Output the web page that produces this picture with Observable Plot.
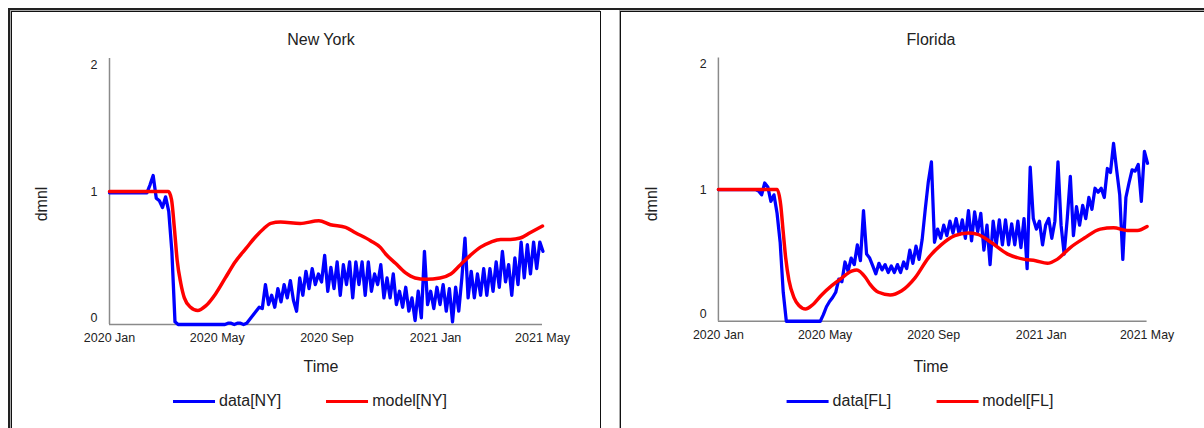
<!DOCTYPE html>
<html><head><meta charset="utf-8">
<script src="https://cdn.jsdelivr.net/npm/d3@7"></script>
<script src="https://cdn.jsdelivr.net/npm/@observablehq/plot@0.6"></script>
<style>
body{margin:0;background:#fff;font-family:"Liberation Sans",Arial,sans-serif;color:#222}
#root{position:relative;width:1204px;height:428px;overflow:hidden;background:#fff}
.abs{position:absolute}
.outer{left:8px;top:8px;width:1400px;height:600px;border-top:2px solid #222;border-left:2px solid #222;box-sizing:border-box}
.panel{top:11px;width:590px;height:600px;border:1px solid #111;box-sizing:border-box;box-shadow:-1px -1px 0 #aaa}
.ctr{transform:translate(-50%,-50%);white-space:nowrap;font-size:16px;line-height:1}
.ylab{transform:translate(-50%,-50%) rotate(-90deg);white-space:nowrap;font-size:16px;line-height:1}
.legend{display:flex;align-items:center;transform:translate(-50%,-50%);white-space:nowrap;font-size:16px;line-height:1}
.sw{display:inline-block;width:42px;height:3px;margin-right:4px}
</style>
</head><body>
<div id="root">
  <div class="abs outer"></div>
  <div class="abs panel" style="left:11px"></div>
  <div class="abs panel" style="left:620px"></div>
</div>
<script>
// ---- data ----
const panels = ["New York", "Florida"];
const seriesNames = [["data[NY]", "model[NY]"], ["data[FL]", "model[FL]"]];
const xTickLabels = ["2020 Jan", "2020 May", "2020 Sep", "2021 Jan", "2021 May"];
const xTickDates = ["2020-01-01", "2020-05-01", "2020-09-01", "2021-01-01", "2021-05-01"];
const yTicks = [0, 1, 2];
const startDate = "2020-01-01";
const endDate = "2021-05-01";
const dataStepDays = 3.5;

const dataNY = [0.99,0.99,0.99,0.99,0.99,0.99,0.99,0.99,0.99,0.99,0.99,0.99,0.99,
  1.05,1.12,0.95,0.93,0.88,0.96,0.85,0.55,0.02,
  0,0,0,0,0,0,0,0,0,0,0,0,0,0,0,0,
  0.01,0.01,0,0.01,0.01,0,0.01,0.04,0.07,0.1,0.13,0.12,0.3,0.15,0.22,0.13,0.27,0.17,0.3,0.2,0.33,0.18,
  0.1,0.35,0.22,0.4,0.27,0.42,0.3,0.38,0.32,0.52,0.25,0.43,0.27,0.47,0.22,0.45,0.3,0.47,0.2,0.47,
  0.3,0.47,0.22,0.47,0.25,0.38,0.3,0.45,0.2,0.35,0.2,0.38,0.15,0.25,0.13,0.28,0.1,0.2,0.03,0.25,
  0.05,0.55,0.15,0.25,0.12,0.28,0.15,0.3,0.1,0.27,0.02,0.28,0.1,0.35,0.65,0.2,0.4,0.2,0.38,0.22,
  0.42,0.22,0.42,0.25,0.47,0.28,0.55,0.32,0.45,0.22,0.5,0.3,0.62,0.35,0.6,0.38,0.62,0.42,0.62,0.55];

const dataFL = [1,1,1,1,1,1,1,1,1,1,1,1,1,
  0.99,0.96,1.05,1.02,0.91,0.96,0.82,0.6,0.22,
  0,0,0,0,0,0,0,0,0,0,0,0,
  0.05,0.11,0.15,0.18,0.22,0.32,0.3,0.45,0.38,0.48,0.43,0.58,0.46,0.84,0.51,0.48,0.42,0.36,0.44,0.39,
  0.43,0.37,0.42,0.37,0.43,0.37,0.45,0.4,0.54,0.44,0.57,0.47,0.62,0.85,1.06,1.21,0.6,0.7,0.63,0.73,
  0.65,0.76,0.67,0.78,0.66,0.77,0.63,0.84,0.61,0.83,0.68,0.82,0.54,0.73,0.43,0.76,0.58,0.77,0.58,0.77,
  0.58,0.74,0.58,0.76,0.56,0.78,0.4,1.17,0.78,0.7,0.76,0.58,0.73,0.78,0.63,0.76,1.21,0.73,0.51,0.78,
  1.1,0.65,0.87,0.73,0.88,0.78,0.94,0.85,1.01,0.98,1.01,0.94,1.16,1.13,1.35,1.15,0.96,0.47,0.94,1.05,
  1.15,1.14,1.19,0.91,1.29,1.2];

const modelDaysNY = [0,66,69.6,73,76,80,84,91,99,108,119,130,141,153,164,173,181,192,214,235,248,265,276,293,304,310,321,332,343,355,371,383,394,405,416,428,439,450,461,472,486];
const modelNY =     [1,1,0.94,0.71,0.48,0.31,0.2,0.13,0.105,0.14,0.23,0.35,0.47,0.57,0.66,0.72,0.76,0.77,0.76,0.78,0.75,0.73,0.69,0.63,0.58,0.53,0.46,0.39,0.35,0.34,0.35,0.38,0.45,0.52,0.58,0.62,0.64,0.64,0.65,0.69,0.74];

const modelDaysFL = [0,66.5,70.7,73.3,76.3,80,85.7,91.3,98.9,106,117,128.5,140,151,157,167,172,181.5,194.7,207.4,222.9,237.9,252.5,268,283,294,309,328,347,359.6,373,384,399,414.5,433,448,463.6,475,486];
const modelFL =     [1,1,0.88,0.69,0.48,0.31,0.18,0.12,0.093,0.12,0.2,0.27,0.33,0.38,0.39,0.33,0.28,0.22,0.2,0.23,0.33,0.48,0.58,0.65,0.67,0.66,0.6,0.51,0.47,0.46,0.44,0.47,0.56,0.63,0.7,0.71,0.69,0.69,0.72];

// ---- build ----
const DAY = 864e5;
const t0 = new Date(startDate + "T00:00:00Z");
const toDate = d => new Date(+t0 + d * DAY);
const xTicks = xTickDates.map(s => new Date(s + "T00:00:00Z"));
const fmtTick = d => xTickLabels[xTicks.findIndex(t => +t === +d)];
const fmtY = d => String(d);

const root = document.getElementById("root");
const datas = [dataNY, dataFL];
const models = [[modelDaysNY, modelNY], [modelDaysFL, modelFL]];
const yShift = [-7, 0, 6];

panels.forEach((name, p) => {
  const off = p * 610;
  const dataRows = datas[p].map((v, i) => ({t: toDate(i * dataStepDays), v}));
  const modelRows = models[p][0].map((d, i) => ({t: toDate(d), v: models[p][1][i]}));
  const svg = Plot.plot({
    width: 600, height: 385,
    marginLeft: 109, marginRight: 58, marginTop: 58, marginBottom: 61,
    x: {type: "utc", domain: [t0, new Date(endDate + "T00:00:00Z")]},
    y: {domain: [0, 2]},
    style: {fontFamily: '"Liberation Sans", Arial, sans-serif', fontSize: "12.5px", color: "#222", background: "transparent", overflow: "visible"},
    marks: [
      Plot.ruleY([0], {stroke: "#8a8a8a", strokeWidth: 1.5}),
      Plot.ruleX([t0], {stroke: "#8a8a8a", strokeWidth: 1.5}),
      Plot.axisX({ticks: xTicks, tickFormat: fmtTick, tickSize: 0, tickPadding: 9, label: null}),
      ...yTicks.map((v, k) => Plot.axisY([v], {tickSize: 0, tickPadding: 12, dy: yShift[k], tickFormat: fmtY, label: null})),
      Plot.line(dataRows, {x: "t", y: "v", stroke: "#0000ff", strokeWidth: 3.3, strokeLinejoin: "round"}),
      Plot.line(modelRows, {x: "t", y: "v", stroke: "#ff0000", strokeWidth: 3.5, curve: "monotone-x"})
    ]
  });
  const wrap = document.createElement("div");
  wrap.className = "abs";
  wrap.style.left = off + "px";
  wrap.style.top = "0px";
  wrap.appendChild(svg);
  root.appendChild(wrap);

  const add = (cls, x, y, text) => {
    const el = document.createElement("div");
    el.className = "abs " + cls;
    el.style.left = x + "px";
    el.style.top = y + "px";
    el.textContent = text;
    root.appendChild(el);
    return el;
  };
  add("ctr", off + 321, 40, name);
  add("ctr", off + 321, 367, "Time");
  add("ylab", off + 42, 204, "dmnl");
  const lg = add("legend", off + 310, 401, "");
  const cols = ["#0000ff", "#ff0000"];
  seriesNames[p].forEach((s, k) => {
    const item = document.createElement("span");
    item.style.display = "flex";
    item.style.alignItems = "center";
    if (k > 0) item.style.marginLeft = "45px";
    const sw = document.createElement("span");
    sw.className = "sw";
    sw.style.background = cols[k];
    const tx = document.createElement("span");
    tx.textContent = s;
    item.appendChild(sw); item.appendChild(tx);
    lg.appendChild(item);
  });
});
</script>
</body></html>
